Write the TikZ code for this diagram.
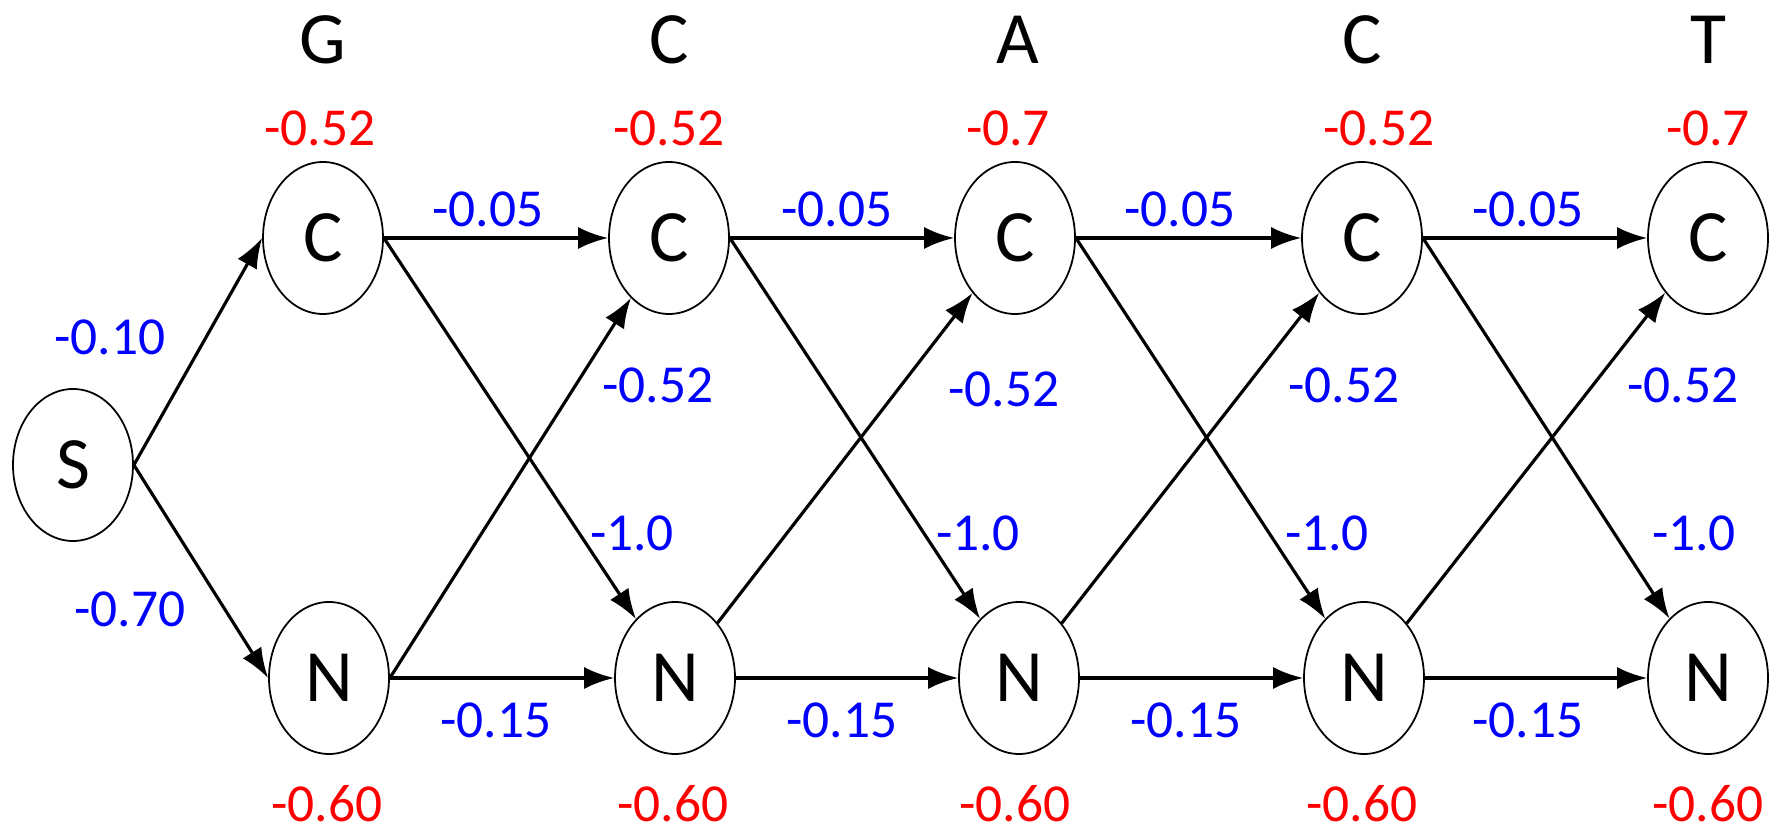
\documentclass[tikz,border=0pt]{standalone}
\usepackage{fontspec}
\setmainfont{Carlito}
\usetikzlibrary{shapes.geometric,arrows.meta}

\begin{document}
\begin{tikzpicture}[
  every node/.style={font=\fontsize{15.2}{18}\selectfont},
  state/.style={draw, ellipse, line width=0.5pt, minimum width=1.2cm, minimum height=1.52cm, inner sep=0pt, font=\fontsize{21}{24}\selectfont},
  base/.style={font=\fontsize{21}{24}\selectfont},
  emit/.style={text=red},
  trans/.style={text=blue},
  edge/.style={-{Latex[length=3mm,width=2.2mm]}, line width=0.9pt}]
  \useasboundingbox (0,0) rectangle (17.79,8.32);
  % states
  \node[state] (S) at (0.73,3.67) {S};
  \node[state] (C1) at (3.23,5.94) {C};
  \node[state] (C2) at (6.69,5.94) {C};
  \node[state] (C3) at (10.15,5.94) {C};
  \node[state] (C4) at (13.62,5.94) {C};
  \node[state] (C5) at (17.08,5.94) {C};
  \node[state] (N1) at (3.29,1.54) {N};
  \node[state] (N2) at (6.75,1.54) {N};
  \node[state] (N3) at (10.19,1.54) {N};
  \node[state] (N4) at (13.64,1.54) {N};
  \node[state] (N5) at (17.08,1.54) {N};
  % sequence
  \node[base] (b1) at (3.23,7.92) {G};
  \node[base] (b2) at (6.69,7.92) {C};
  \node[base] (b3) at (10.18,7.92) {A};
  \node[base] (b4) at (13.62,7.92) {C};
  \node[base] (b5) at (17.08,7.92) {T};
  % emissions
  \node[emit] (eC1) at (3.20,7.04) {-0.52};
  \node[emit] (eC2) at (6.69,7.04) {-0.52};
  \node[emit] (eC3) at (10.08,7.04) {-0.7};
  \node[emit] (eC4) at (13.79,7.04) {-0.52};
  \node[emit] (eC5) at (17.08,7.04) {-0.7};
  \node[emit] (eN1) at (3.27,0.28) {-0.60};
  \node[emit] (eN2) at (6.73,0.28) {-0.60};
  \node[emit] (eN3) at (10.15,0.28) {-0.60};
  \node[emit] (eN4) at (13.62,0.28) {-0.60};
  \node[emit] (eN5) at (17.08,0.28) {-0.60};
  % transitions
  \draw[edge] (S.east) -- (C1.west);
  \draw[edge] (S.east) -- (N1.west);
  \draw[edge] (C1.east) -- (C2.west);
  \draw[edge] (C2.east) -- (C3.west);
  \draw[edge] (C3.east) -- (C4.west);
  \draw[edge] (C4.east) -- (C5.west);
  \draw[edge] (N1.east) -- (N2.west);
  \draw[edge] (N2.east) -- (N3.west);
  \draw[edge] (N3.east) -- (N4.west);
  \draw[edge] (N4.east) -- (N5.west);
  \draw[edge] (C1.east) -- (N2);
  \draw[edge] (C2.east) -- (N3);
  \draw[edge] (C3.east) -- (N4);
  \draw[edge] (C4.east) -- (N5);
  \draw[edge] (N1.east) -- (C2);
  \draw[edge] (N2) -- (C3);
  \draw[edge] (N3) -- (C4);
  \draw[edge] (N4) -- (C5);
  \node[trans] (tSC) at (1.10,4.95) {-0.10};
  \node[trans] (tSN) at (1.30,2.23) {-0.70};
  \node[trans] (tCC1) at (4.88,6.23) {-0.05};
  \node[trans] (tCC2) at (8.37,6.23) {-0.05};
  \node[trans] (tCC3) at (11.80,6.23) {-0.05};
  \node[trans] (tCC4) at (15.28,6.23) {-0.05};
  \node[trans] (tNN1) at (4.96,1.12) {-0.15};
  \node[trans] (tNN2) at (8.42,1.12) {-0.15};
  \node[trans] (tNN3) at (11.86,1.12) {-0.15};
  \node[trans] (tNN4) at (15.28,1.12) {-0.15};
  \node[trans] (tNC1) at (6.58,4.47) {-0.52};
  \node[trans] (tNC2) at (10.04,4.43) {-0.52};
  \node[trans] (tNC3) at (13.44,4.47) {-0.52};
  \node[trans] (tNC4) at (16.83,4.47) {-0.52};
  \node[trans] (tCN1) at (6.32,2.99) {-1.0};
  \node[trans] (tCN2) at (9.78,2.99) {-1.0};
  \node[trans] (tCN3) at (13.27,2.99) {-1.0};
  \node[trans] (tCN4) at (16.94,2.99) {-1.0};
\end{tikzpicture}
\end{document}
